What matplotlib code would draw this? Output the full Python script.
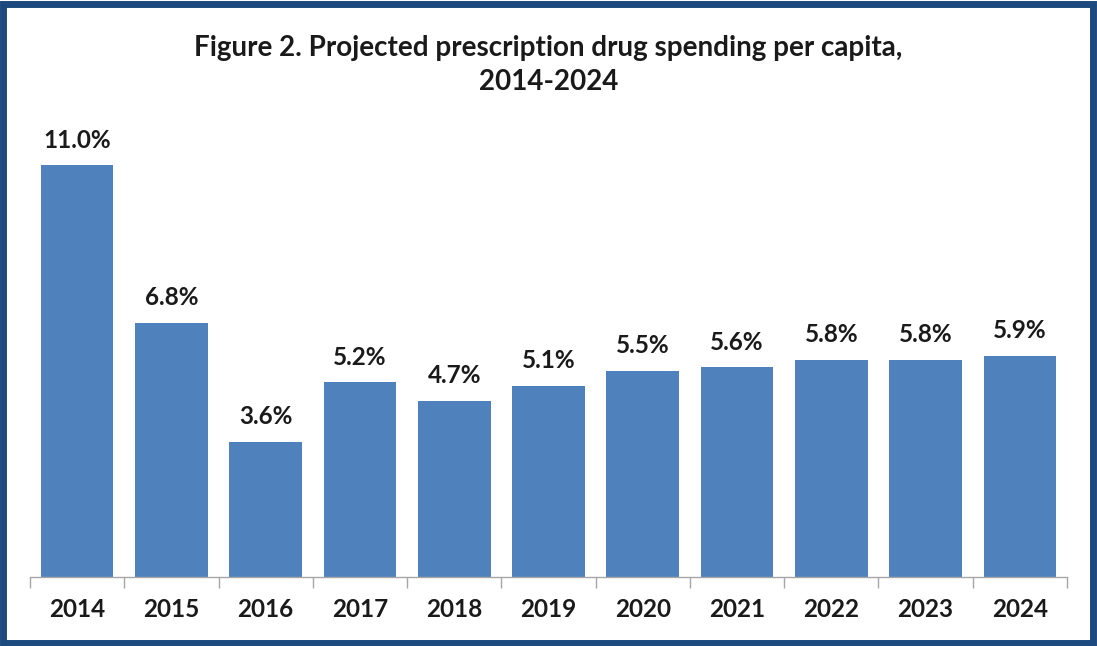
import matplotlib
matplotlib.use("Agg")
import matplotlib.pyplot as plt
from matplotlib.patches import Rectangle

years = ["2014", "2015", "2016", "2017", "2018", "2019", "2020", "2021", "2022", "2023", "2024"]
growth = [11.0, 6.8, 3.6, 5.2, 4.7, 5.1, 5.5, 5.6, 5.8, 5.8, 5.9]
title = "Figure 2. Projected prescription drug spending per capita,\n2014-2024"

W, H = 1097, 646
fig = plt.figure(figsize=(W / 100, H / 100), dpi=100)
fig.patch.set_facecolor("white")

# outer dark-blue frame
fig.patches.append(Rectangle((3 / W, 3 / H), (W - 7) / W, (H - 7) / H, transform=fig.transFigure,
                             fill=False, edgecolor="#1d4a7e", linewidth=5, zorder=10))

ax = fig.add_axes([30 / W, (H - 577) / H, (1067 - 30) / W, (577 - 128) / H])
x = list(range(len(years)))
ax.bar(x, growth, width=0.77, color="#4f81bd", zorder=2)
ax.set_xlim(-0.5, len(years) - 0.5)
ax.set_ylim(0, 12)

for xi, v in zip(x, growth):
    ax.annotate(f"{v:.1f}%", (xi, v), xytext=(0, 10), textcoords="offset points",
                ha="center", va="bottom", fontsize=17.5, fontweight="bold",
                family="Lato", color="#1a1a1a")

for s in ["top", "right", "left"]:
    ax.spines[s].set_visible(False)
ax.spines["bottom"].set_color("#a6a6a6")
ax.spines["bottom"].set_linewidth(1)
ax.set_yticks([])
ax.set_xticks([i - 0.5 for i in range(len(years) + 1)], minor=False)
ax.set_xticklabels([""] * (len(years) + 1))
ax.tick_params(axis="x", which="major", length=8, color="#a6a6a6", width=1)
ax.set_xticks(x, minor=True)
ax.set_xticklabels(years, minor=True)
ax.tick_params(axis="x", which="minor", length=0, pad=15, labelsize=17.5)
for lbl in ax.get_xticklabels(minor=True):
    lbl.set_fontweight("bold")
    lbl.set_family("Lato")
    lbl.set_color("#1a1a1a")

fig.text(0.5, (H - 65) / H, title, ha="center", va="center", fontsize=20,
         fontweight="bold", family="Lato", color="#1a1a1a", linespacing=1.38)

fig.savefig("out.png", dpi=100)
